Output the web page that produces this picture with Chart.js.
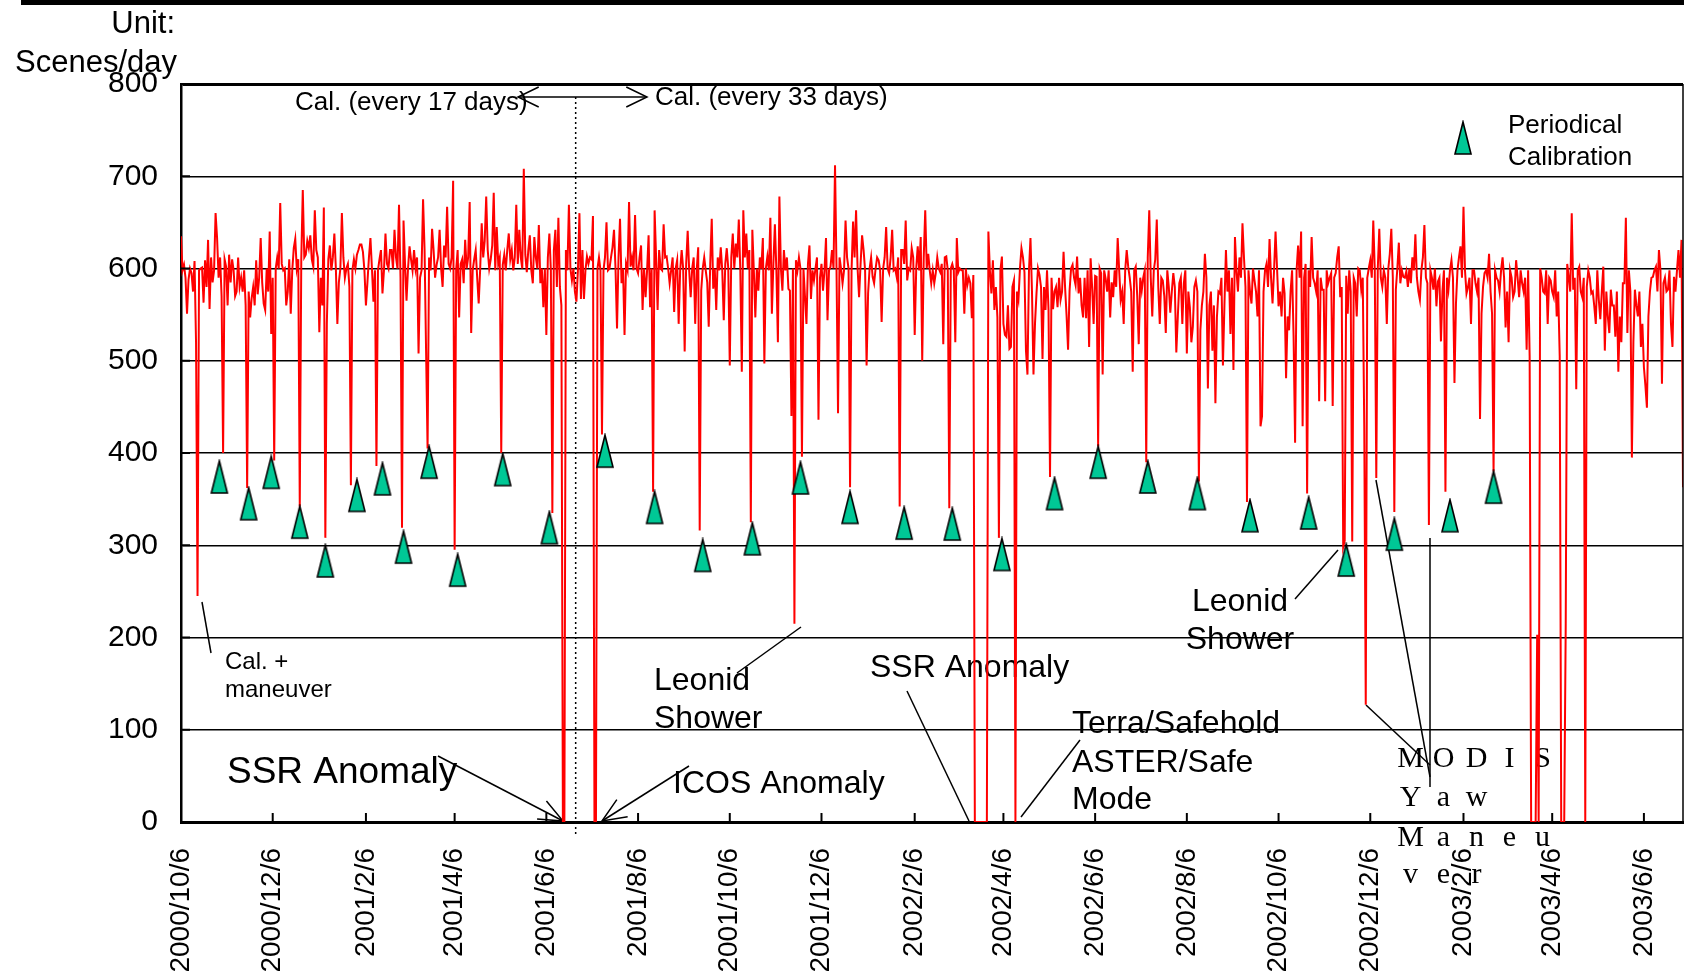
<!DOCTYPE html>
<html>
<head>
<meta charset="utf-8">
<script src="https://cdn.jsdelivr.net/npm/chart.js"></script>
<style>
  html, body { margin: 0; padding: 0; background: #ffffff; overflow: hidden; }
  canvas { display: block; }
</style>
</head>
<body>
<canvas id="myChart" width="1684" height="975"></canvas>
<script>
// date axis tick labels (every 2 months)
const dateLabels = ["2000/10/6", "2000/12/6", "2001/2/6", "2001/4/6", "2001/6/6", "2001/8/6",
  "2001/10/6", "2001/12/6", "2002/2/6", "2002/4/6", "2002/6/6", "2002/8/6", "2002/10/6",
  "2002/12/6", "2003/2/6", "2003/4/6", "2003/6/6"];
const startDate = "2000/10/6";
const yTicks = [0, 100, 200, 300, 400, 500, 600, 700, 800];

// scenes per day, one value per day from startDate
const scenesPerDay = [
  635, 598, 604, 590, 551, 588, 600, 595, 575, 608, 520, 245, 598, 600, 601, 563, 609, 580, 631, 556,
  612, 585, 598, 660, 633, 590, 612, 570, 400, 610, 602, 560, 615, 585, 610, 598, 570, 575, 612, 580,
  590, 575, 598, 560, 362, 575, 547, 568, 580, 560, 609, 572, 590, 633, 585, 562, 555, 600, 575, 640,
  529, 590, 392, 600, 612, 600, 671, 605, 598, 600, 560, 575, 610, 551, 598, 622, 632, 600, 610, 342,
  610, 685, 612, 615, 630, 622, 636, 610, 602, 663, 620, 612, 531, 590, 560, 666, 308, 540, 610, 625,
  598, 612, 638, 600, 540, 585, 600, 660, 612, 590, 600, 605, 580, 365, 598, 610, 600, 615, 620, 626,
  626, 618, 598, 560, 585, 612, 633, 600, 564, 598, 386, 598, 610, 620, 573, 598, 638, 605, 600, 620,
  620, 600, 642, 612, 600, 669, 590, 319, 652, 605, 565, 600, 624, 610, 598, 620, 600, 612, 508, 590,
  598, 675, 620, 511, 405, 612, 598, 643, 620, 590, 604, 612, 642, 600, 580, 625, 612, 667, 605, 600,
  612, 695, 295, 598, 620, 547, 605, 610, 584, 631, 600, 612, 672, 530, 598, 610, 620, 590, 562, 600,
  649, 612, 630, 678, 620, 600, 610, 625, 682, 598, 645, 605, 612, 400, 604, 615, 598, 620, 638, 610,
  620, 598, 612, 669, 605, 642, 612, 600, 708, 615, 596, 620, 636, 598, 584, 634, 612, 600, 647, 584,
  600, 558, 600, 528, 612, 638, 598, 335, 620, 642, 580, 655, 580, 560, 0, 0, 620, 598, 669, 600,
  587, 600, 575, 564, 598, 660, 567, 620, 567, 598, 613, 605, 612, 610, 657, 0, 0, 600, 612, 598,
  420, 598, 612, 650, 598, 600, 612, 623, 642, 600, 535, 612, 654, 584, 600, 528, 605, 598, 672, 602,
  612, 598, 658, 600, 595, 612, 625, 555, 600, 569, 598, 636, 558, 600, 358, 663, 612, 555, 620, 600,
  598, 648, 612, 613, 600, 584, 598, 612, 553, 600, 609, 540, 598, 620, 600, 510, 605, 641, 598, 569,
  600, 612, 540, 598, 623, 316, 576, 600, 612, 598, 585, 537, 605, 654, 578, 600, 555, 612, 598, 623,
  598, 544, 605, 622, 600, 495, 612, 638, 600, 627, 612, 653, 598, 488, 663, 612, 638, 600, 620, 325,
  642, 598, 547, 600, 576, 612, 600, 633, 497, 600, 613, 598, 655, 551, 605, 648, 598, 520, 678, 600,
  576, 620, 598, 612, 578, 576, 440, 600, 215, 609, 598, 612, 600, 396, 600, 570, 540, 605, 625, 567,
  598, 587, 600, 612, 436, 590, 605, 576, 598, 633, 544, 598, 602, 620, 600, 712, 598, 443, 612, 600,
  584, 598, 652, 612, 600, 363, 598, 651, 612, 663, 600, 569, 605, 636, 620, 598, 495, 573, 600, 612,
  591, 584, 600, 612, 609, 598, 542, 600, 612, 645, 600, 595, 612, 642, 598, 600, 591, 612, 342, 620,
  620, 605, 652, 587, 600, 598, 622, 612, 528, 600, 624, 598, 634, 500, 612, 663, 600, 616, 598, 584,
  598, 584, 595, 612, 600, 596, 605, 518, 612, 613, 598, 340, 600, 605, 598, 520, 633, 596, 600, 598,
  598, 551, 600, 582, 590, 584, 546, 593, 0, 0, 0, 0, 0, 0, 0, 0, 0, 640, 598, 573,
  609, 555, 580, 547, 308, 598, 613, 540, 528, 526, 560, 513, 515, 580, 587, 0, 575, 566, 600, 622,
  612, 596, 511, 485, 598, 633, 575, 485, 540, 573, 600, 593, 580, 502, 580, 555, 598, 555, 374, 590,
  556, 575, 580, 558, 590, 566, 575, 618, 580, 549, 512, 576, 600, 604, 590, 582, 613, 573, 590, 560,
  547, 590, 546, 598, 515, 611, 580, 540, 592, 591, 407, 600, 595, 485, 598, 589, 575, 598, 547, 585,
  569, 598, 580, 633, 598, 566, 575, 540, 598, 620, 602, 590, 575, 488, 598, 602, 570, 518, 590, 576,
  590, 598, 390, 612, 663, 590, 548, 598, 610, 653, 580, 540, 590, 587, 570, 530, 598, 580, 552, 575,
  595, 580, 509, 548, 584, 590, 540, 584, 598, 508, 575, 558, 520, 537, 580, 587, 575, 369, 533, 560,
  575, 616, 590, 470, 560, 575, 511, 560, 454, 547, 575, 573, 590, 495, 560, 620, 575, 598, 529, 590,
  490, 634, 598, 575, 612, 590, 649, 612, 580, 347, 598, 575, 562, 600, 587, 575, 548, 598, 429, 440,
  575, 598, 605, 580, 632, 590, 562, 598, 640, 600, 559, 575, 548, 590, 573, 481, 548, 533, 575, 598,
  526, 411, 598, 625, 590, 640, 429, 590, 605, 356, 598, 580, 634, 590, 584, 575, 598, 456, 590, 577,
  577, 456, 598, 584, 590, 595, 451, 590, 595, 612, 624, 569, 580, 298, 305, 592, 551, 598, 575, 304,
  590, 584, 548, 600, 598, 577, 590, 429, 127, 590, 600, 609, 590, 652, 598, 373, 600, 643, 590, 580,
  598, 590, 540, 600, 616, 643, 590, 336, 577, 600, 628, 584, 598, 591, 590, 597, 580, 600, 584, 612,
  598, 637, 590, 575, 566, 598, 612, 647, 590, 584, 322, 598, 590, 577, 600, 559, 586, 590, 521, 575,
  598, 358, 590, 577, 598, 609, 590, 476, 562, 598, 612, 624, 590, 667, 598, 573, 580, 590, 540, 598,
  598, 584, 575, 590, 437, 551, 580, 595, 598, 590, 616, 575, 551, 380, 598, 590, 587, 575, 598, 612,
  590, 536, 575, 520, 598, 590, 569, 575, 609, 590, 569, 598, 584, 575, 590, 512, 598, 505, 0, 0,
  0, 0, 203, 0, 600, 590, 575, 573, 598, 540, 590, 587, 575, 569, 598, 548, 575, 505, 0, 0,
  0, 215, 605, 590, 575, 660, 577, 590, 469, 598, 602, 575, 569, 590, 0, 580, 598, 590, 573, 575,
  559, 540, 598, 566, 545, 575, 602, 511, 575, 548, 530, 577, 560, 560, 526, 575, 488, 548, 520, 584,
  584, 655, 530, 598, 575, 395, 520, 577, 560, 548, 575, 515, 540, 493, 473, 449, 548, 575, 590, 591,
  598, 602, 575, 620, 598, 475, 584, 590, 575, 577, 598, 540, 515, 591, 575, 598, 620, 590, 631, 363
];

// periodical calibration markers (day from startDate, scenes/day)
const calDay = [25.5, 45, 60, 79, 96, 117, 134, 148, 165, 184, 214, 245, 282, 315, 347,
  380, 412, 445, 481, 513, 546, 581, 610, 643, 676, 711, 750, 775, 807, 844, 873];
const calScenes = [374, 345, 379, 325, 283, 354, 372, 298, 390, 273, 382, 319, 402, 341, 289,
  307, 373, 341, 324, 323, 290, 356, 390, 374, 356, 332, 335, 284, 312, 332, 363];

const FONT = "'Liberation Sans', Arial, sans-serif";
const SERIF = "'Liberation Serif', 'Times New Roman', serif";

function dayOf(s) {
  const p = s.split("/").map(Number);
  const q = startDate.split("/").map(Number);
  return Math.round((Date.UTC(p[0], p[1] - 1, p[2]) - Date.UTC(q[0], q[1] - 1, q[2])) / 86400000);
}
const tickDays = dateLabels.map(dayOf);
const labelByDay = {};
tickDays.forEach((d, i) => { labelByDay[d] = dateLabels[i]; });

// tall green triangle used as the calibration marker
function makeTriangle() {
  const c = document.createElement("canvas");
  c.width = 20;
  c.height = 36;
  const g = c.getContext("2d");
  g.beginPath();
  g.moveTo(10, 2);
  g.lineTo(18, 34);
  g.lineTo(2, 34);
  g.closePath();
  g.fillStyle = "#00C896";
  g.fill();
  g.lineWidth = 1.6;
  g.strokeStyle = "#000000";
  g.stroke();
  return c;
}
const tri = makeTriangle();

// drawing helpers
function text(ctx, s, x, y, size, align, family) {
  ctx.font = size + "px " + (family || FONT);
  ctx.textAlign = align || "left";
  ctx.textBaseline = "alphabetic";
  ctx.fillText(s, x, y);
}
function line(ctx, x1, y1, x2, y2) {
  ctx.beginPath();
  ctx.moveTo(x1, y1);
  ctx.lineTo(x2, y2);
  ctx.stroke();
}
function head(ctx, x1, y1, x2, y2, len, ang) {
  const a = Math.atan2(y2 - y1, x2 - x1);
  ctx.beginPath();
  ctx.moveTo(x2 - len * Math.cos(a - ang), y2 - len * Math.sin(a - ang));
  ctx.lineTo(x2, y2);
  ctx.lineTo(x2 - len * Math.cos(a + ang), y2 - len * Math.sin(a + ang));
  ctx.stroke();
}

// notes on the plot
const annotations = {
  id: "annotations",
  beforeDatasetsDraw(chart) {
    const { ctx, scales: { x } } = chart;
    ctx.save();
    ctx.fillStyle = "#000";
    ctx.strokeStyle = "#000";
    ctx.lineWidth = 1.5;

    // switch of calibration period
    const xs = x.getPixelForValue(262.5);
    ctx.setLineDash([2, 3]);
    line(ctx, xs, 97, xs, 836);
    ctx.setLineDash([]);
    line(ctx, 518, 97, 647, 97);
    head(ctx, 647, 97, 518, 97, 23, 0.45);
    head(ctx, 518, 97, 647, 97, 23, 0.45);
    text(ctx, "Cal. (every 17 days)", 295, 110, 26);
    text(ctx, "Cal. (every 33 days)", 655, 105, 26);

    line(ctx, 202, 602, 211, 653);
    text(ctx, "Cal. +", 225, 669, 24);
    text(ctx, "maneuver", 225, 697, 24);

    text(ctx, "SSR Anomaly", 227, 783, 37);
    line(ctx, 438, 756, 563, 821);
    head(ctx, 438, 756, 563, 821, 26, 0.4);

    text(ctx, "ICOS Anomaly", 673, 793, 32);
    line(ctx, 689, 766, 602, 821);
    head(ctx, 689, 766, 602, 821, 26, 0.4);

    text(ctx, "Leonid", 654, 690, 32);
    text(ctx, "Shower", 654, 728, 32);
    line(ctx, 737, 673, 801, 627);

    text(ctx, "SSR Anomaly", 870, 677, 32);
    line(ctx, 907, 691, 969, 821);

    text(ctx, "Terra/Safehold", 1072, 733, 32);
    text(ctx, "ASTER/Safe", 1072, 772, 32);
    text(ctx, "Mode", 1072, 809, 32);
    line(ctx, 1080, 740, 1021, 817);

    text(ctx, "Leonid", 1240, 611, 32, "center");
    text(ctx, "Shower", 1240, 649, 32, "center");
    line(ctx, 1295, 599, 1338, 550);

    line(ctx, 1366, 705, 1430, 765);
    line(ctx, 1376, 480, 1430, 777);
    line(ctx, 1430, 538, 1430, 787);
    const modis = [["MODIS", 767], ["Yaw", 806], ["Maneu", 846], ["ver", 883]];
    modis.forEach(([word, by]) => {
      word.split("").forEach((ch, i) => text(ctx, ch, 1410.5 + 33 * i, by, 30, "center", SERIF));
    });
    ctx.restore();
  },
  afterDraw(chart) {
    const { ctx, chartArea: { left, right, top, bottom }, scales: { x, y } } = chart;
    ctx.save();
    ctx.fillStyle = "#000";
    ctx.strokeStyle = "#000";
    ctx.fillRect(21, 0, 1663, 5);
    text(ctx, "Unit:", 175, 33, 31, "right");
    text(ctx, "Scenes/day", 177, 72, 31, "right");

    // inward tick marks
    ctx.lineWidth = 2;
    tickDays.forEach(d => {
      const px = x.getPixelForValue(d);
      line(ctx, px, bottom, px, bottom - 9);
    });
    yTicks.forEach(v => {
      const py = y.getPixelForValue(v);
      line(ctx, left, py, left + 9, py);
    });
    ctx.lineWidth = 1.5;
    line(ctx, right, top, right, bottom);

    // legend
    ctx.drawImage(tri, 1463 - tri.width / 2, 138 - tri.height / 2);
    text(ctx, "Periodical", 1508, 133, 26);
    text(ctx, "Calibration", 1508, 165, 26);
    ctx.restore();
  }
};

const config = {
  type: "line",
  data: {
    datasets: [
      {
        label: "Periodical Calibration",
        data: calDay.map((d, i) => ({ x: d, y: calScenes[i] })),
        showLine: false,
        pointStyle: tri,
        pointRadius: 10,
        order: 0,
      },
      {
        label: "Scenes/day",
        data: scenesPerDay.map((v, i) => ({ x: i, y: v })),
        borderColor: "#ff0000",
        backgroundColor: "#ff0000",
        borderWidth: 2,
        pointRadius: 0,
        tension: 0,
        fill: false,
        order: 1,
      },
    ],
  },
  options: {
    responsive: false,
    animation: false,
    devicePixelRatio: 1,
    layout: { autoPadding: false, padding: { top: 84, right: 1, left: 0, bottom: 0 } },
    plugins: {
      legend: { display: false },
      tooltip: { enabled: false },
    },
    scales: {
      x: {
        type: "linear",
        min: 0,
        max: 999,
        afterBuildTicks: (s) => { s.ticks = tickDays.map((v) => ({ value: v })); },
        afterFit: (s) => { s.height = 153; s.paddingLeft = 0; s.paddingRight = 0; },
        grid: { display: false, drawTicks: false },
        border: { color: "#000", width: 3 },
        ticks: {
          autoSkip: false,
          minRotation: 90,
          maxRotation: 90,
          padding: 26,
          color: "#000",
          font: { family: FONT, size: 28 },
          callback: (v) => labelByDay[v],
        },
      },
      y: {
        min: 0,
        max: 800,
        afterBuildTicks: (s) => { s.ticks = yTicks.map((v) => ({ value: v })); },
        afterFit: (s) => { s.width = 181; },
        grid: {
          color: "#000",
          lineWidth: (c) => (c.tick && c.tick.value === 800 ? 3 : 1.5),
          drawTicks: false,
        },
        border: { color: "#000", width: 2.5 },
        ticks: {
          padding: 23,
          color: "#000",
          font: { family: FONT, size: 30 },
        },
      },
    },
  },
  plugins: [annotations],
};

const myChart = new Chart(document.getElementById("myChart"), config);
</script>
</body>
</html>
